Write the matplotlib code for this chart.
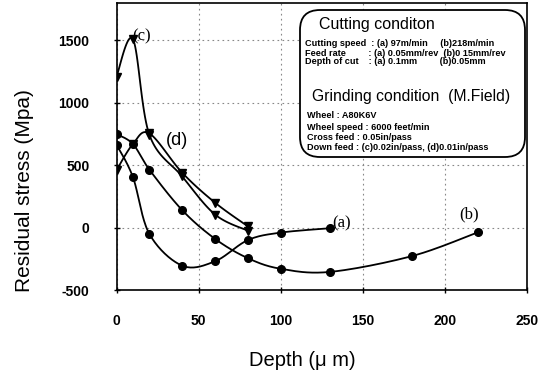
import numpy as np
import matplotlib
matplotlib.use("Agg")
import matplotlib.pyplot as plt
from matplotlib.patches import FancyBboxPatch
from matplotlib.transforms import IdentityTransform

plt.rcParams['axes.unicode_minus'] = False

# ---- data ----
a_x = [0, 10, 20, 40, 60, 80, 100, 130]
a_y = [665, 405, -50, -305, -270, -100, -40, -5]
b_x = [0, 10, 20, 40, 60, 80, 100, 130, 180, 220]
b_y = [750, 670, 465, 140, -90, -245, -330, -355, -228, -38]
c_x = [0, 10, 20, 40, 60, 80]
c_y = [1210, 1510, 745, 410, 105, -25]
d_x = [0, 10, 20, 40, 60, 80]
d_y = [460, 670, 755, 440, 200, 10]

x_ticks = [0, 50, 100, 150, 200, 250]
y_ticks = [-500, 0, 500, 1000, 1500]

W, H = 549, 374
fig = plt.figure(figsize=(W / 100, H / 100), dpi=100)
ax = fig.add_axes([116.5 / W, 1 - 290 / H, 410.5 / W, 287 / H])


def smooth(xs, ys, n=20):
    """Catmull-Rom rendering of a line through the data points."""
    P = np.column_stack([xs, ys]).astype(float)
    P = np.vstack([P[:1], P, P[-1:]])
    out = []
    for i in range(1, len(P) - 2):
        p0, p1, p2, p3 = P[i - 1], P[i], P[i + 1], P[i + 2]
        t = np.linspace(0, 1, n, endpoint=False)[:, None]
        seg = 0.5 * ((2 * p1) + (-p0 + p2) * t + (2 * p0 - 5 * p1 + 4 * p2 - p3) * t ** 2
                     + (-p0 + 3 * p1 - 3 * p2 + p3) * t ** 3)
        out.append(seg)
    out.append(P[-2][None, :])
    out = np.vstack(out)
    return out[:, 0], out[:, 1]


for xs, ys, mk, ms in [(a_x, a_y, 'o', 5.5), (b_x, b_y, 'o', 5.5),
                       (c_x, c_y, 'v', 6), (d_x, d_y, 'v', 6)]:
    sx, sy = smooth(xs, ys)
    ax.plot(sx, sy, color='black', lw=1.3, zorder=3)
    ax.plot(xs, ys, linestyle='none', marker=mk, ms=ms, color='black', zorder=4)

ax.set_xlim(0, 250)
ax.set_ylim(-500, 1800)
ax.set_xticks(x_ticks)
ax.set_yticks(y_ticks)
ax.grid(True, linestyle=(0, (1.5, 3)), color='#888888', lw=0.8)
for s in ax.spines.values():
    s.set_linewidth(1.2)
    s.set_color('black')
ax.tick_params(direction='inout', length=5, width=1, labelsize=10)
ax.tick_params(axis='x', pad=15)
ax.tick_params(axis='y', pad=17)
for lab in ax.get_xticklabels() + ax.get_yticklabels():
    lab.set_fontfamily('Liberation Sans')
    lab.set_fontweight('bold')

ax.set_xlabel('Depth (\u03bc m)', fontsize=14.5, fontfamily='Liberation Sans')
ax.xaxis.set_label_coords(0.452, -0.244)
ax.xaxis.label.set_va('center')
ax.set_ylabel('Residual stress (Mpa)', fontsize=15, fontfamily='Liberation Sans')
ax.yaxis.set_label_coords(-0.223, 0.345)
ax.yaxis.label.set_va('center')

# curve labels
ax.text(15, 1530, '(c)', fontsize=12, fontfamily='Liberation Serif', ha='center', va='center', zorder=5)
ax.text(37, 700, '(d)', fontsize=13, fontfamily='Liberation Sans', ha='center', va='center', zorder=5)
ax.text(137, 35, '(a)', fontsize=12, fontfamily='Liberation Serif', ha='center', va='center', zorder=5)
ax.text(215, 105, '(b)', fontsize=12, fontfamily='Liberation Serif', ha='center', va='center', zorder=5)

# condition box (pixel coords, origin bottom-left)
box = FancyBboxPatch((300, H - 157), 225, 147, boxstyle='round,pad=0,rounding_size=20',
                     transform=IdentityTransform(), facecolor='white', edgecolor='black',
                     lw=1.3, zorder=6)
ax.add_patch(box)
box.set_clip_on(False)


def ftext(x, y, s, size, weight='normal'):
    t = ax.text(x, H - y, s, transform=IdentityTransform(), fontsize=size,
                fontfamily='Liberation Sans', fontweight=weight, ha='left', va='center', zorder=7)
    t.set_clip_on(False)


ftext(319, 24, 'Cutting conditon', 11.5)
ftext(305, 44, 'Cutting speed  : (a) 97m/min     (b)218m/min', 6.6, 'bold')
ftext(305, 53, 'Feed rate         : (a) 0.05mm/rev  (b)0 15mm/rev', 6.6, 'bold')
ftext(305, 62, 'Depth of cut    : (a) 0.1mm         (b)0.05mm', 6.6, 'bold')
ftext(312, 97, 'Grinding condition  (M.Field)', 11.3)
ftext(307, 115, 'Wheel : A80K6V', 6.6, 'bold')
ftext(307, 127, 'Wheel speed : 6000 feet/min', 6.6, 'bold')
ftext(307, 137, 'Cross feed : 0.05in/pass', 6.6, 'bold')
ftext(307, 147, 'Down feed : (c)0.02in/pass, (d)0.01in/pass', 6.6, 'bold')

fig.savefig('out.png', dpi=100)
